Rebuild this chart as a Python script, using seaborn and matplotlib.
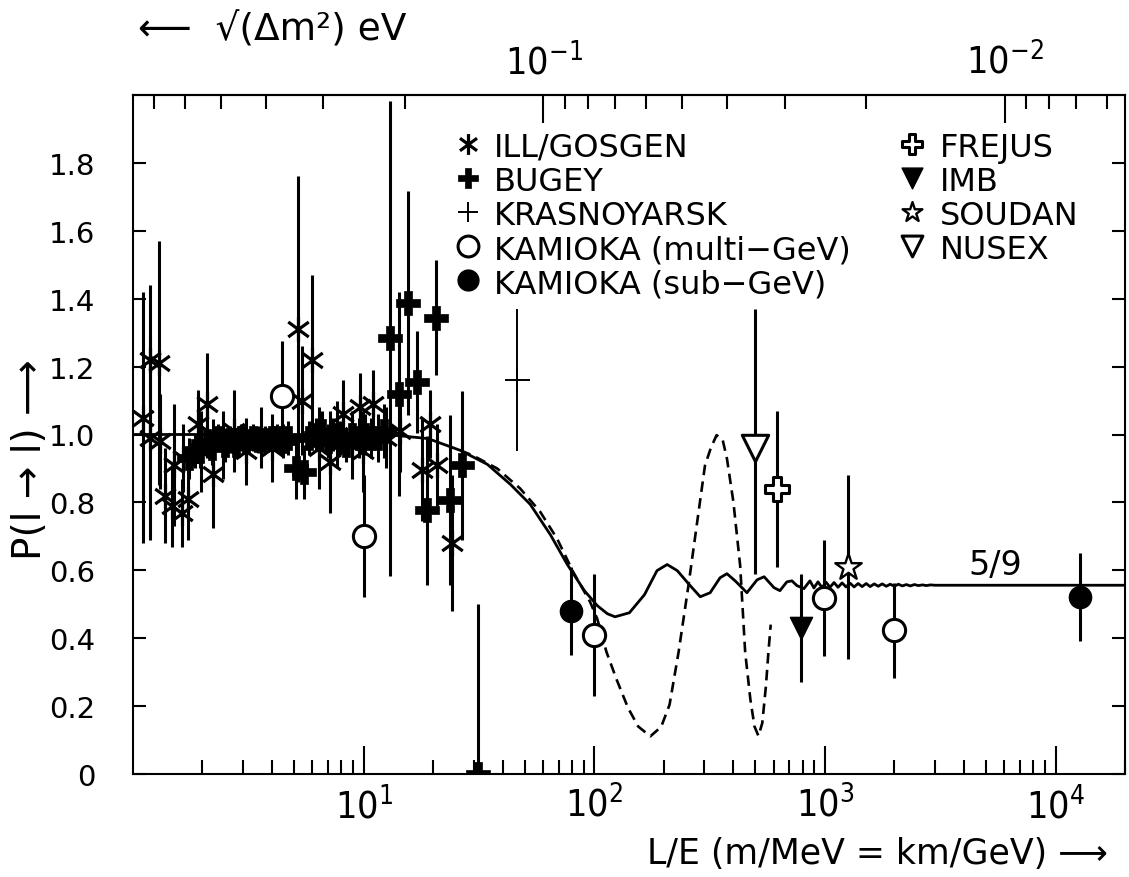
import numpy as np
import matplotlib
matplotlib.use("Agg")
import matplotlib.pyplot as plt
import seaborn as sns
from matplotlib.path import Path
from matplotlib.ticker import FixedLocator, LogLocator, FuncFormatter, NullFormatter, NullLocator

# ---------------- data ----------------
# ILL / GOSGEN  (L/E, P, error)
ill_le = [1.10, 1.19, 1.19, 1.29, 1.31, 1.38, 1.47, 1.50, 1.63, 1.65, 1.74, 1.92, 1.98, 2.09, 2.23,
          2.45, 2.75, 3.1, 3.6, 4.0, 5.21, 5.38, 5.95, 6.4, 7.15, 7.7, 8.16, 8.9, 9.64, 9.97,
          11.0, 12.5, 14.4, 17.9, 19.4, 20.7, 24.1]
ill_p = [1.05, 1.22, 0.99, 1.21, 0.98, 0.82, 0.79, 0.91, 0.77, 0.93, 0.81, 1.03, 0.95, 1.09, 0.885,
         0.97, 1.01, 0.95, 0.99, 0.96, 1.31, 1.10, 1.22, 0.96, 0.92, 1.00, 1.06, 0.97, 1.08, 0.95,
         1.09, 0.99, 1.01, 0.895, 1.03, 0.91, 0.68]
ill_err = [0.37, 0.22, 0.30, 0.36, 0.14, 0.14, 0.12, 0.18, 0.10, 0.10, 0.12, 0.10, 0.12, 0.15, 0.16,
           0.10, 0.12, 0.10, 0.09, 0.10, 0.45, 0.16, 0.25, 0.12, 0.15, 0.10, 0.10, 0.10, 0.10, 0.12,
           0.10, 0.09, 0.12, 0.15, 0.10, 0.12, 0.20]

# BUGEY
bugey_le = [1.75, 1.85, 1.95, 2.09, 2.2, 2.34, 2.5, 2.63, 2.8, 2.95, 3.1, 3.31, 3.5, 3.73, 4.0,
            4.19, 4.45, 4.70, 5.1, 5.5, 5.8, 6.2, 6.6, 7.0, 7.4, 7.9, 8.4, 8.9, 9.5, 10.1,
            10.8, 11.5, 12.3, 13.0, 14.3, 15.5, 17.1, 18.9, 20.6, 23.7, 26.6, 31.4]
bugey_p = [0.93, 0.95, 0.95, 0.98, 0.96, 0.99, 0.97, 0.985, 0.97, 0.99, 0.98, 0.99, 0.985, 0.985, 0.99,
           0.99, 0.98, 0.99, 0.90, 0.89, 0.99, 1.00, 1.01, 0.98, 1.00, 0.99, 0.97, 1.00, 0.99, 1.00,
           0.99, 0.99, 1.01, 1.283, 1.12, 1.386, 1.155, 0.777, 1.344, 0.806, 0.909, 0.0]
bugey_err = [0.06, 0.05, 0.05, 0.05, 0.05, 0.04, 0.05, 0.04, 0.04, 0.04, 0.04, 0.04, 0.04, 0.04, 0.04,
             0.04, 0.05, 0.05, 0.09, 0.08, 0.05, 0.05, 0.06, 0.05, 0.05, 0.05, 0.05, 0.05, 0.06, 0.06,
             0.06, 0.07, 0.08, 0.70, 0.30, 0.33, 0.15, 0.22, 0.17, 0.25, 0.22, 0.50]

# KRASNOYARSK
kras_le = [46.1]
kras_p = [1.16]
kras_err = [0.21]

# KAMIOKA multi-GeV
kmulti_le = [4.41, 10.0, 100.0, 995.0, 2000.0]
kmulti_p = [1.114, 0.701, 0.41, 0.519, 0.423]
kmulti_err = [0.16, 0.18, 0.18, 0.17, 0.14]

# KAMIOKA sub-GeV
ksub_le = [79.3, 12790.0]
ksub_p = [0.48, 0.521]
ksub_err = [0.13, 0.13]

# FREJUS, IMB, SOUDAN, NUSEX
frejus_le, frejus_p, frejus_err = [622.0], [0.84], [0.23]
imb_le, imb_p, imb_err = [786.0], [0.43], [0.16]
soudan_le, soudan_p, soudan_err = [1253.0], [0.61], [0.27]
nusex_le, nusex_p = [498.0], [0.96]
nusex_err_lo, nusex_err_hi = [0.37], [0.41]

# theory curves
solid_le = [1.0, 10.0, 14.0, 19.0, 26.3, 34.4, 43.3, 52.8, 64.5, 76.4, 90.6, 103, 114, 123, 142, 165,
            187, 207, 229, 258, 288, 318, 351, 376, 408, 459, 508, 545, 601, 638, 684, 719, 756, 811,
            861, 896, 933, 971, 1011, 1052, 1095, 1140, 1187, 1235, 1286, 1338, 1393, 1450, 1510,
            1571, 1636, 1703, 1772, 1845, 1920, 1999, 2081, 2166, 2255, 2347, 2443, 2543, 2647,
            2756, 2868, 3000, 20000]
solid_p = [1.0, 1.0, 0.997, 0.988, 0.953, 0.912, 0.853, 0.794, 0.705, 0.617, 0.540, 0.496, 0.472,
           0.463, 0.475, 0.528, 0.599, 0.617, 0.599, 0.558, 0.522, 0.534, 0.578, 0.590, 0.569,
           0.534, 0.572, 0.581, 0.549, 0.540, 0.566, 0.569, 0.555, 0.546, 0.569, 0.548, 0.566,
           0.549, 0.565, 0.550, 0.564, 0.550, 0.563, 0.551, 0.562, 0.551, 0.561, 0.552, 0.561,
           0.552, 0.560, 0.553, 0.560, 0.553, 0.559, 0.553, 0.559, 0.554, 0.558, 0.554, 0.558,
           0.555, 0.557, 0.555, 0.557, 0.556, 0.556]
dash_le = [26.3, 29.8, 37.9, 47.7, 58.2, 69.0, 80.9, 95.9, 103, 113, 125, 140, 155, 175, 195, 212,
           232, 256, 278, 302, 320, 339, 360, 376, 401, 429, 451, 475, 495, 515, 535, 555, 569, 582]
dash_p = [0.953, 0.938, 0.900, 0.841, 0.773, 0.693, 0.596, 0.507, 0.457, 0.359, 0.278, 0.195, 0.140,
          0.111, 0.139, 0.204, 0.359, 0.555, 0.732, 0.909, 0.960, 0.998, 0.985, 0.929, 0.801, 0.614,
          0.359, 0.220, 0.140, 0.112, 0.150, 0.260, 0.360, 0.440]

yticks = [0, 0.2, 0.4, 0.6, 0.8, 1.0, 1.2, 1.4, 1.6, 1.8]
ytick_labels = ["0", "0.2", "0.4", "0.6", "0.8", "1.0", "1.2", "1.4", "1.6", "1.8"]
xticks = [10, 100, 1000, 10000]
top_major = [0.1, 0.01]
top_minor = [0.7, 0.6, 0.5, 0.4, 0.3, 0.2, 0.09, 0.08, 0.07, 0.06, 0.05, 0.04, 0.03, 0.02,
             0.009, 0.008, 0.007, 0.006]
SQRT_C = 0.776   # sqrt(dm^2) [eV] = SQRT_C / sqrt(L/E)

legend_labels = ["ILL/GOSGEN", "BUGEY", "KRASNOYARSK", "KAMIOKA (multi\u2212GeV)",
                 "KAMIOKA (sub\u2212GeV)", "FREJUS", "IMB", "SOUDAN", "NUSEX"]

# ---------------- style ----------------
sns.set_theme(style="ticks")
plt.rcParams.update({
    "font.family": ["DejaVu Sans"],
    "mathtext.fontset": "custom",
    "mathtext.rm": "DejaVu Sans:stretch=condensed",
    "mathtext.it": "DejaVu Sans:stretch=condensed",
    "mathtext.bf": "DejaVu Sans:stretch=condensed",
    "axes.edgecolor": "black",
    "axes.linewidth": 1.5,
    "xtick.color": "black",
    "ytick.color": "black",
    "text.color": "black",
    "axes.labelcolor": "black",
})

W, H = 1129, 878
AX_L, AX_R, AX_T, AX_B = 133, 1125, 96, 775
fig = plt.figure(figsize=(W / 100, H / 100), dpi=100)
ax = fig.add_axes([AX_L / W, 1 - AX_B / H, (AX_R - AX_L) / W, (AX_B - AX_T) / H])
ax.set_xscale("log")
ax.set_xlim(1.0, 2.0e4)
ax.set_ylim(0, 2.0)

# curves
sns.lineplot(x=solid_le, y=solid_p, ax=ax, color="black", lw=2.0, sort=False,
             estimator=None, zorder=2)
sns.lineplot(x=dash_le, y=dash_p, ax=ax, color="black", lw=1.9, sort=False,
             estimator=None, zorder=2, linestyle=(0, (4.0, 2.4)))

# custom asterisk marker (vertical + X)
ast = Path([(0, -1), (0, 1), (-0.82, -0.6), (0.82, 0.6), (-0.82, 0.6), (0.82, -0.6)],
           [Path.MOVETO, Path.LINETO, Path.MOVETO, Path.LINETO, Path.MOVETO, Path.LINETO])

styles = []


def series(le, p, err, marker, ms, face, edge, lw, elw=2.2):
    ax.errorbar(le, p, yerr=err, fmt="none", ecolor="black", elinewidth=elw,
                capsize=0, zorder=3)
    sns.scatterplot(x=le, y=p, ax=ax, marker=marker, s=ms ** 2, color=face,
                    edgecolor=edge, linewidth=lw, zorder=4, legend=False)
    styles.append((marker, face, edge, lw))


series(ill_le, ill_p, ill_err, ast, 18, "black", "black", 2.3)
series(bugey_le, bugey_p, bugey_err, "P", 17, "black", "black", 0.5)
series(kras_le, kras_p, kras_err, "+", 18, "black", "black", 1.4, elw=1.4)
series(kmulti_le, kmulti_p, kmulti_err, "o", 16, "white", "black", 2.2)
series(ksub_le, ksub_p, ksub_err, "o", 16, "black", "black", 1.0)
series(frejus_le, frejus_p, frejus_err, "P", 17, "white", "black", 2.2)
series(imb_le, imb_p, imb_err, "v", 16, "black", "black", 1.0)
series(soudan_le, soudan_p, soudan_err, "*", 20, "white", "black", 1.7)
series(nusex_le, nusex_p, [nusex_err_lo, nusex_err_hi], "v", 19, "white", "black", 2.2)

# legend (two columns, placed like the original)
leg_cols_px = [(468, 494)] * 5 + [(912, 940)] * 4
leg_rows_px = [145, 179, 213, 247, 281, 145, 179, 213, 247]
for (mx, tx), ry, lab, (mk, fc, ec, lw) in zip(leg_cols_px, leg_rows_px, legend_labels, styles):
    axx = (mx - AX_L) / (AX_R - AX_L)
    axy = (AX_B - ry) / (AX_B - AX_T)
    ax.scatter([axx], [axy], transform=ax.transAxes, marker=mk, s=15 ** 2, c=fc,
               edgecolors=ec, linewidths=lw, zorder=5, clip_on=False)
    ax.text((tx - AX_L) / (AX_R - AX_L), axy, lab, transform=ax.transAxes,
            fontsize=23, ha="left", va="center_baseline")

ax.text(5470, 0.59, "5/9", ha="center", va="baseline", fontsize=24)

# ticks
ax.xaxis.set_major_locator(FixedLocator(xticks))
ax.xaxis.set_minor_locator(LogLocator(base=10, subs=np.arange(2, 10) * 1.0, numticks=30))
ax.xaxis.set_major_formatter(FuncFormatter(lambda v, pos: r"$10^{%d}$" % round(np.log10(v))))
ax.xaxis.set_minor_formatter(NullFormatter())
ax.yaxis.set_major_locator(FixedLocator(yticks))
ax.set_yticklabels(ytick_labels)
ax.yaxis.set_minor_locator(NullLocator())
ax.tick_params(axis="x", which="major", direction="in", length=20, width=1.5,
               top=False, labelsize=27, pad=8)
ax.tick_params(axis="x", which="minor", direction="in", length=10, width=1.5, top=False)
ax.tick_params(axis="y", which="major", direction="in", length=9.5, width=1.5,
               right=True, labelsize=21, pad=27)


def fwd(x):
    x = np.clip(np.asarray(x, dtype=float), 1e-12, None)
    return SQRT_C / np.sqrt(x)


def inv(s):
    s = np.clip(np.asarray(s, dtype=float), 1e-12, None)
    return (SQRT_C / s) ** 2


sec = ax.secondary_xaxis("top", functions=(fwd, inv))
sec.xaxis.set_major_locator(FixedLocator(top_major))
sec.xaxis.set_minor_locator(FixedLocator(top_minor))
sec.xaxis.set_major_formatter(FuncFormatter(lambda v, pos: r"$10^{%d}$" % round(np.log10(v))))
sec.xaxis.set_minor_formatter(NullFormatter())
sec.tick_params(axis="x", which="major", direction="in", length=20, width=1.5,
                labelsize=27, pad=10)
sec.tick_params(axis="x", which="minor", direction="in", length=10, width=1.5)

# axis titles
fig.text(138 / W, 1 - 40 / H, "\u27f5  \u221a(\u0394m\u00b2) eV", fontsize=27, va="baseline",
         ha="left")
fig.text(1108 / W, 1 - 864 / H, "L/E (m/MeV = km/GeV) \u27f6", fontsize=25,
         va="baseline", ha="right")
fig.text(30 / W, 1 - 460 / H, "P(l \u2192 l) \u27f6", fontsize=28, rotation=90,
         ha="center", va="center")

fig.savefig("out.png", dpi=100)
